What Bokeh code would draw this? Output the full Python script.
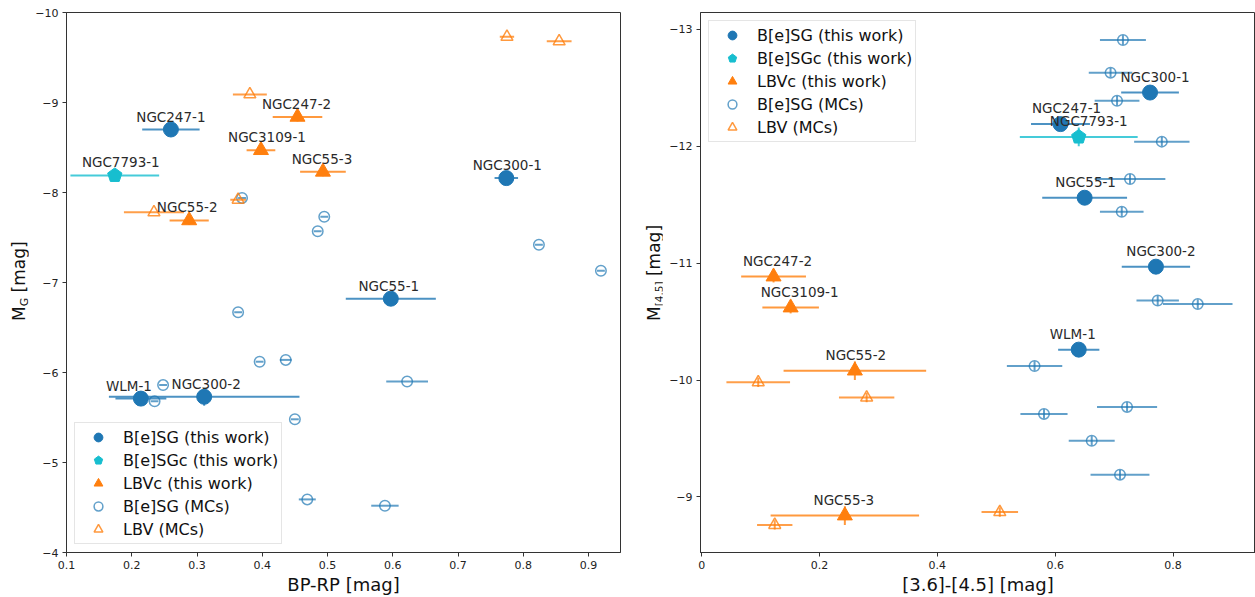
import math
from bokeh.plotting import figure
from bokeh.models import (ColumnDataSource, Range1d, Legend, LegendItem, LabelSet,
                          FixedTicker, Div)
from bokeh.layouts import row
from bokeh.embed import file_html
from bokeh.resources import INLINE
from bokeh.core.properties import value

# ------------------------------------------------------------------ data
# this work
bsg_names = ["NGC247-1", "NGC300-1", "NGC55-1", "WLM-1", "NGC300-2"]
bsgc_names = ["NGC7793-1"]
lbvc_names = ["NGC247-2", "NGC3109-1", "NGC55-3", "NGC55-2"]

# left panel: Gaia colour BP-RP and M_G
bsg_bprp = [0.260, 0.774, 0.597, 0.214, 0.311]
bsg_bprp_err = [0.044, 0.018, 0.069, 0.039, 0.146]
bsg_mg = [-8.70, -8.16, -6.82, -5.71, -5.73]
bsg_mg_err = [0.05, 0.05, 0.05, 0.05, 0.10]

bsgc_bprp = [0.174]
bsgc_bprp_err = [0.068]
bsgc_mg = [-8.19]
bsgc_mg_err = [0.05]

lbvc_bprp = [0.454, 0.398, 0.493, 0.288]
lbvc_bprp_err = [0.038, 0.022, 0.035, 0.030]
lbvc_mg = [-8.84, -8.47, -8.23, -7.69]
lbvc_mg_err = [0.05, 0.05, 0.05, 0.05]

mc_bsg_bprp = [0.369, 0.495, 0.485, 0.824, 0.919, 0.363, 0.396, 0.436, 0.248, 0.235,
               0.450, 0.622, 0.469, 0.588]
mc_bsg_bprp_err = [0.006, 0.006, 0.006, 0.006, 0.006, 0.006, 0.006, 0.009, 0.006, 0.006,
                   0.006, 0.032, 0.013, 0.021]
mc_bsg_mg = [-7.94, -7.73, -7.57, -7.42, -7.13, -6.67, -6.12, -6.14, -5.86, -5.68,
             -5.48, -5.90, -4.59, -4.52]
mc_bsg_mg_err = [0.0] * 14

mc_lbv_bprp = [0.381, 0.234, 0.363, 0.775, 0.855]
mc_lbv_bprp_err = [0.026, 0.046, 0.012, 0.011, 0.019]
mc_lbv_mg = [-9.09, -7.78, -7.92, -9.73, -9.68]
mc_lbv_mg_err = [0.0] * 5

# right panel: Spitzer colour [3.6]-[4.5] and M_[4.5]
bsg_c = [0.609, 0.761, 0.650, 0.640, 0.771]
bsg_c_err = [0.050, 0.049, 0.072, 0.035, 0.058]
bsg_m45 = [-12.19, -12.46, -11.56, -10.26, -10.97]
bsg_m45_err = [0.05, 0.05, 0.05, 0.05, 0.05]

bsgc_c = [0.640]
bsgc_c_err = [0.100]
bsgc_m45 = [-12.08]
bsgc_m45_err = [0.08]

lbvc_c = [0.122, 0.151, 0.243, 0.260]
lbvc_c_err = [0.055, 0.048, 0.126, 0.121]
lbvc_m45 = [-10.885, -10.62, -8.84, -10.08]
lbvc_m45_err = [0.05, 0.05, 0.08, 0.08]

mc_bsg_c = [0.715, 0.694, 0.705, 0.781, 0.727, 0.713, 0.774, 0.842, 0.565, 0.722,
            0.581, 0.662, 0.710]
mc_bsg_c_err = [0.039, 0.037, 0.038, 0.047, 0.060, 0.037, 0.036, 0.059, 0.047, 0.051,
                0.040, 0.039, 0.050]
mc_bsg_m45 = [-12.91, -12.63, -12.39, -12.04, -11.72, -11.44, -10.68, -10.65, -10.12,
              -9.77, -9.71, -9.48, -9.19]
mc_bsg_m45_err = [0.04] * 13

mc_lbv_c = [0.096, 0.280, 0.124, 0.506]
mc_lbv_c_err = [0.054, 0.047, 0.030, 0.031]
mc_lbv_m45 = [-9.98, -9.85, -8.76, -8.87]
mc_lbv_m45_err = [0.04] * 4

legend_labels = ["B[e]SG (this work)", "B[e]SGc (this work)", "LBVc (this work)",
                 "B[e]SG (MCs)", "LBV (MCs)"]

left_xticks = [0.1, 0.2, 0.3, 0.4, 0.5, 0.6, 0.7, 0.8, 0.9]
left_yticks = [-10, -9, -8, -7, -6, -5, -4]
right_xticks = [0.0, 0.2, 0.4, 0.6, 0.8]
right_yticks = [-13, -12, -11, -10, -9]

left_ylabel = ("M", "G", " [mag]")
right_ylabel = ("M", "[4.5]", " [mag]")

# ------------------------------------------------------------------ style / layout
FONT = "DejaVu Sans"
BLUE = "#1f77b4"
CYAN = "#17becf"
ORANGE = "#ff7f0e"
DARK = "#333333"
HEIGHT = 597
B_TOP_L, B_TOP_R, B_BOTTOM = 12, 10, 45
LABEL_W_L, LABEL_W_R = 28, 32

# label nudges in screen pixels (layout only)
left_label_dx = [0, 1, -2, -12, 2, 6, -1, 6, -1, -2]
right_label_dx = [6, 5, 1, -6, 5, 10, 4, 9, -1, 1]


def errbars(p, x, xe, y, ye, color, alpha, width=2):
    src = ColumnDataSource(dict(
        x0=[a - e for a, e in zip(x, xe)], x1=[a + e for a, e in zip(x, xe)], y=y,
        x=x, y0=[b - e for b, e in zip(y, ye)], y1=[b + e for b, e in zip(y, ye)]))
    p.segment(x0="x0", y0="y", x1="x1", y1="y", source=src, line_color=color,
              line_alpha=alpha, line_width=width)
    if any(e > 0 for e in ye):
        p.segment(x0="x", y0="y0", x1="x", y1="y1", source=src, line_color=color,
                  line_alpha=alpha, line_width=width)


def pentagon(p, x, y):
    try:
        r = p.ngon(x=x, y=y, radius=7.5, radius_units="screen", n=5,
                   angle=0, fill_color=CYAN, line_color=CYAN)
    except Exception:
        r = p.scatter(x=x, y=y, marker="hex", size=15, angle=math.pi / 2,
                      fill_color=CYAN, line_color=CYAN)
    return r


def ylabel_div(parts, width, pad_left, pad_top, sub_size):
    main, sub, rest = parts
    html = (
        f'<div style="padding-top:{pad_top}px; padding-left:{pad_left}px;">'
        f'<div style="transform:rotate(-90deg); transform-origin:0 0; '
        f'white-space:nowrap; width:max-content; font-family:\'{FONT}\'; '
        f'font-size:17px; line-height:1; color:#111111;">{main}'
        f'<span style="font-size:{sub_size}; position:relative; top:3px;">{sub}</span>'
        f'{rest}</div></div>')
    return Div(text=html, width=width, height=HEIGHT, margin=0)


def make_panel(width, bl, br, bt, xr, yr, xticks, yticks, xlabel, d, label_dx,
               label_dy, legend_loc):
    p = figure(width=width, height=HEIGHT, x_range=Range1d(*xr), y_range=Range1d(*yr),
               output_backend="svg", toolbar_location=None,
               min_border_left=bl, min_border_right=br, min_border_top=bt,
               min_border_bottom=B_BOTTOM)
    p.xgrid.visible = False
    p.ygrid.visible = False
    p.outline_line_color = DARK
    p.outline_line_width = 1
    p.background_fill_color = "white"
    p.border_fill_color = "white"
    for ax in (p.xaxis[0], p.yaxis[0]):
        ax.axis_line_color = DARK
        ax.major_tick_line_color = DARK
        ax.major_tick_in = 0
        ax.major_tick_out = 4
        ax.minor_tick_line_color = None
        ax.major_label_text_font = FONT
        ax.major_label_text_font_size = "11px"
        ax.major_label_text_color = "#222222"
        ax.major_label_standoff = 4
    p.xaxis.ticker = FixedTicker(ticks=xticks)
    p.yaxis.ticker = FixedTicker(ticks=yticks)
    p.yaxis.major_label_overrides = {t: "\u2212" + str(abs(t)) for t in yticks}
    p.xaxis.axis_label = xlabel
    p.xaxis.axis_label_text_font = FONT
    p.xaxis.axis_label_text_font_size = "18px"
    p.xaxis.axis_label_text_font_style = "normal"
    p.xaxis.axis_label_text_color = "#111111"
    p.xaxis.axis_label_standoff = 2

    # MCs first (behind)
    errbars(p, d["mcb_x"], d["mcb_xe"], d["mcb_y"], d["mcb_ye"], BLUE, 0.7, 2)
    r_mcb = p.scatter(d["mcb_x"], d["mcb_y"], marker="circle", size=10.5,
                      fill_color=None, line_color=BLUE, line_alpha=0.7, line_width=1.5)
    errbars(p, d["mcl_x"], d["mcl_xe"], d["mcl_y"], d["mcl_ye"], ORANGE, 0.75, 2)
    r_mcl = p.scatter(d["mcl_x"], d["mcl_y"], marker="triangle", size=12,
                      fill_color=None, line_color=ORANGE, line_alpha=0.8, line_width=1.5)
    r_mcb_x = p.scatter([], [], marker="cross", size=12, line_color=BLUE, line_alpha=0.7,
                        line_width=1.5)
    r_mcl_x = p.scatter([], [], marker="cross", size=12, line_color=ORANGE,
                        line_alpha=0.8, line_width=1.5)

    # this work
    errbars(p, d["b_x"], d["b_xe"], d["b_y"], d["b_ye"], BLUE, 0.8, 2)
    r_b = p.scatter(d["b_x"], d["b_y"], marker="circle", size=15, fill_color=BLUE,
                    line_color=BLUE)
    errbars(p, d["c_x"], d["c_xe"], d["c_y"], d["c_ye"], CYAN, 0.8, 2)
    r_c = pentagon(p, d["c_x"], d["c_y"])
    errbars(p, d["l_x"], d["l_xe"], d["l_y"], d["l_ye"], ORANGE, 0.8, 2)
    r_l = p.scatter(d["l_x"], d["l_y"], marker="triangle", size=15, fill_color=ORANGE,
                    line_color=ORANGE)

    lab_src = ColumnDataSource(dict(
        x=d["b_x"] + d["c_x"] + d["l_x"], y=d["b_y"] + d["c_y"] + d["l_y"],
        name=bsg_names + bsgc_names + lbvc_names, dx=label_dx))
    p.add_layout(LabelSet(x="x", y="y", text="name", source=lab_src, x_offset="dx",
                          y_offset=label_dy, text_align="center", text_baseline="middle",
                          text_font=value(FONT), text_font_size="13.5px",
                          text_color="#2a2a2a"))

    items = [LegendItem(label=legend_labels[0], renderers=[r_b]),
             LegendItem(label=legend_labels[1], renderers=[r_c]),
             LegendItem(label=legend_labels[2], renderers=[r_l]),
             LegendItem(label=legend_labels[3], renderers=[r_mcb, r_mcb_x]),
             LegendItem(label=legend_labels[4], renderers=[r_mcl, r_mcl_x])]
    leg = Legend(items=items, location=legend_loc, margin=8, padding=3,
                 glyph_width=40, glyph_height=22, spacing=1, label_standoff=5,
                 label_height=20,
                 label_text_font=FONT, label_text_font_size="16px",
                 label_text_color="#111111",
                 border_line_color="#cccccc", border_line_width=1,
                 background_fill_color="white", background_fill_alpha=0.85)
    p.add_layout(leg)
    return p


left_data = dict(
    b_x=bsg_bprp, b_xe=bsg_bprp_err, b_y=bsg_mg, b_ye=bsg_mg_err,
    c_x=bsgc_bprp, c_xe=bsgc_bprp_err, c_y=bsgc_mg, c_ye=bsgc_mg_err,
    l_x=lbvc_bprp, l_xe=lbvc_bprp_err, l_y=lbvc_mg, l_ye=lbvc_mg_err,
    mcb_x=mc_bsg_bprp, mcb_xe=mc_bsg_bprp_err, mcb_y=mc_bsg_mg, mcb_ye=mc_bsg_mg_err,
    mcl_x=mc_lbv_bprp, mcl_xe=mc_lbv_bprp_err, mcl_y=mc_lbv_mg, mcl_ye=mc_lbv_mg_err)

right_data = dict(
    b_x=bsg_c, b_xe=bsg_c_err, b_y=bsg_m45, b_ye=bsg_m45_err,
    c_x=bsgc_c, c_xe=bsgc_c_err, c_y=bsgc_m45, c_ye=bsgc_m45_err,
    l_x=lbvc_c, l_xe=lbvc_c_err, l_y=lbvc_m45, l_ye=lbvc_m45_err,
    mcb_x=mc_bsg_c, mcb_xe=mc_bsg_c_err, mcb_y=mc_bsg_m45, mcb_ye=mc_bsg_m45_err,
    mcl_x=mc_lbv_c, mcl_xe=mc_lbv_c_err, mcl_y=mc_lbv_m45, mcl_ye=mc_lbv_m45_err)

d1 = ylabel_div(left_ylabel, LABEL_W_L, 11, 321, "11px")
p1 = make_panel(630 - LABEL_W_L, 66 - LABEL_W_L, 10, B_TOP_L, (0.1, 0.949), (-4, -10),
                left_xticks, left_yticks, "BP-RP [mag]", left_data, left_label_dx, 13,
                "bottom_left")
d2 = ylabel_div(right_ylabel, LABEL_W_R, 16, 321, "10.5px")
p2 = make_panel(625 - LABEL_W_R, 70 - LABEL_W_R, 0, B_TOP_R, (-0.002, 0.940),
                (-8.524, -13.145), right_xticks, right_yticks, "[3.6]-[4.5] [mag]",
                right_data, right_label_dx, 16, "top_left")

layout = row(d1, p1, d2, p2, spacing=0)
open("out.html", "w").write(file_html(layout, INLINE))
